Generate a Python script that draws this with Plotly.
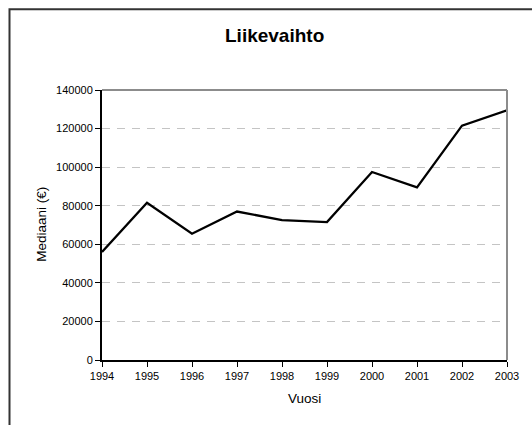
import plotly.graph_objects as go

years = [1994, 1995, 1996, 1997, 1998, 1999, 2000, 2001, 2002, 2003]
median_revenue = [56000, 81500, 65500, 77000, 72500, 71500, 97500, 89500, 121500, 129500]
y_ticks = [0, 20000, 40000, 60000, 80000, 100000, 120000, 140000]

title_text = "Liikevaihto"
x_title = "Vuosi"
y_title = "Mediaani (€)"

W, H = 532, 425
# plot area bounds in page pixels
L, R, T, B = 102, 507, 90, 360.5
pw, ph = R - L, B - T


def px_x(x):
    return (x - L) / pw


def px_y(y):
    return (B - y) / ph


FONT = "Liberation Sans, Arial, sans-serif"

fig = go.Figure()
fig.add_trace(go.Scatter(
    x=years, y=median_revenue, mode="lines",
    line=dict(color="black", width=2.3),
    showlegend=False, hoverinfo="skip", cliponaxis=False,
))

fig.update_layout(
    width=W, height=H,
    margin=dict(l=L, r=W - R, t=T, b=H - B, pad=0),
    paper_bgcolor="white", plot_bgcolor="white",
    font=dict(family=FONT, size=11, color="black"),
    xaxis=dict(
        range=[years[0], years[-1]], tickmode="array", tickvals=years,
        ticktext=[str(y) for y in years],
        showgrid=False, zeroline=False,
        showline=True, linecolor="black", linewidth=2,
        ticks="outside", ticklen=5, tickwidth=1, tickcolor="black",
        tickfont=dict(size=11, family=FONT),
    ),
    yaxis=dict(
        range=[0, 140000], tickmode="array", tickvals=y_ticks,
        ticktext=[str(v) for v in y_ticks],
        showgrid=True, gridcolor="#c4c4c4", gridwidth=1, griddash="8px,7px",
        zeroline=False,
        showline=True, linecolor="black", linewidth=2,
        ticks="outside", ticklen=5, tickwidth=1, tickcolor="black",
        tickfont=dict(size=11, family=FONT),
    ),
    shapes=[
        dict(type="line", xref="paper", yref="paper", x0=0, x1=1, y0=1, y1=1,
             line=dict(color="#8c8c8c", width=2), layer="above"),
        dict(type="line", xref="paper", yref="paper", x0=1, x1=1, y0=0, y1=1,
             line=dict(color="#8c8c8c", width=2), layer="above"),
        dict(type="rect", xref="paper", yref="paper",
             x0=px_x(9.5), x1=px_x(560), y0=px_y(450), y1=px_y(9),
             line=dict(color="#333333", width=2), layer="below"),
    ],
    annotations=[
        dict(text="<b>" + title_text + "</b>", xref="paper", yref="paper",
             x=px_x(274), y=px_y(35.5), showarrow=False,
             xanchor="center", yanchor="middle",
             font=dict(size=19, family=FONT, color="black")),
        dict(text=x_title, xref="paper", yref="paper",
             x=px_x(304.5), y=px_y(399), showarrow=False,
             xanchor="center", yanchor="middle",
             font=dict(size=13.5, family=FONT, color="black")),
        dict(text=y_title, xref="paper", yref="paper",
             x=px_x(42), y=px_y(225), showarrow=False, textangle=-90,
             xanchor="center", yanchor="middle",
             font=dict(size=13.5, family=FONT, color="black")),
    ],
)

fig.write_html(
    "out.html",
    config={"displayModeBar": False, "staticPlot": True},
    post_script="document.body.style.margin='0';document.body.style.overflow='hidden';",
)
